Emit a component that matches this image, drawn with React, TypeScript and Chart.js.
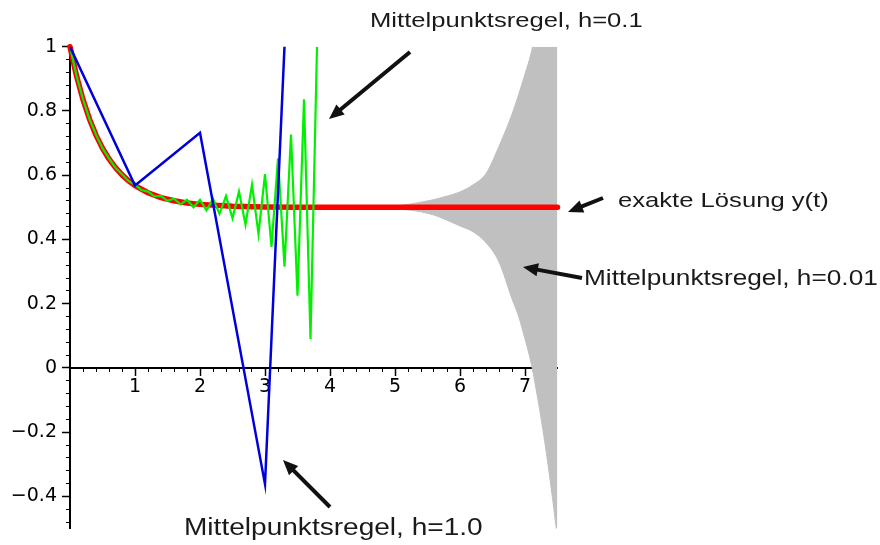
import React, { useEffect, useRef } from 'react';
import { Chart, registerables } from 'chart.js';

Chart.register(...registerables);

// exact solution y(t)
const exactT = [0, 0.1, 0.2, 0.3, 0.4, 0.5, 0.6, 0.7, 0.8, 0.9, 1.0, 1.2, 1.4, 1.6, 1.8, 2.0, 2.5, 3.0, 3.5, 4.0, 5.0, 6.0, 7.5];
const exactY = [1, 0.9094, 0.8352, 0.7744, 0.7247, 0.6839, 0.6506, 0.6233, 0.601, 0.5826, 0.5677, 0.5454, 0.5304, 0.5204, 0.5137, 0.5092, 0.5034, 0.5012, 0.5005, 0.5002, 0.5, 0.5, 0.5];

// Mittelpunktsregel, h = 1.0
const h1T = [0, 1, 2, 3, 4];
const h1Y = [1, 0.5677, 0.7323, -0.3615, 4.18];

// Mittelpunktsregel, h = 0.1
const h01T = [0, 0.1, 0.2, 0.3, 0.4, 0.5, 0.6, 0.7, 0.8, 0.9, 1.0, 1.1, 1.2, 1.3, 1.4, 1.5, 1.6, 1.7, 1.8, 1.9, 2.0, 2.1, 2.2, 2.3, 2.4, 2.5, 2.6, 2.7, 2.8, 2.9, 3.0, 3.1, 3.2, 3.3, 3.4, 3.5, 3.6, 3.7, 3.8];
const h01Y = [1, 0.9094, 0.8363, 0.7749, 0.7263, 0.6843, 0.6526, 0.6233, 0.6032, 0.582, 0.5704, 0.5538, 0.5489, 0.5343, 0.5352, 0.5202, 0.5271, 0.5093, 0.5234, 0.5, 0.5234, 0.4906, 0.5271, 0.4798, 0.5352, 0.4657, 0.5489, 0.4461, 0.5705, 0.4179, 0.6033, 0.3766, 0.6527, 0.3155, 0.7265, 0.2249, 0.8365, 0.0903, 1.0004];

// Mittelpunktsregel, h = 0.01 (envelope of the fast oscillation)
const h001T = [4.4, 4.8, 5.0, 5.2, 5.4, 5.6, 5.8, 6.0, 6.2, 6.4, 6.6, 6.8, 6.9, 7.0, 7.1, 7.2, 7.3, 7.4, 7.5];
const h001Upper = [0.5, 0.502, 0.504, 0.509, 0.516, 0.524, 0.535, 0.548, 0.57, 0.605, 0.69, 0.79, 0.85, 0.915, 0.985, 1.09, 1.2, 1.33, 1.48];
const h001Lower = [0.5, 0.498, 0.496, 0.492, 0.486, 0.476, 0.46, 0.442, 0.424, 0.39, 0.33, 0.215, 0.162, 0.09, 0.01, -0.1, -0.225, -0.37, -0.53];

const xTickValues = [1, 2, 3, 4, 5, 6, 7];
const xTickLabels = ['1', '2', '3', '4', '5', '6', '7'];
const yTickValues = [-0.4, -0.2, 0, 0.2, 0.4, 0.6, 0.8, 1];
const yTickLabels = ['\u22120.4', '\u22120.2', '0', '0.2', '0.4', '0.6', '0.8', '1'];
const xMinorTicks = [0.2, 0.4, 0.6, 0.8, 1, 1.2, 1.4, 1.6, 1.8, 2, 2.2, 2.4, 2.6, 2.8, 3, 3.2, 3.4, 3.6, 3.8, 4, 4.2, 4.4, 4.6, 4.8, 5, 5.2, 5.4, 5.6, 5.8, 6, 6.2, 6.4, 6.6, 6.8, 7, 7.2, 7.4];
const yMinorTicks = [-0.48, -0.44, -0.4, -0.36, -0.32, -0.28, -0.24, -0.2, -0.16, -0.12, -0.08, -0.04, 0, 0.04, 0.08, 0.12, 0.16, 0.2, 0.24, 0.28, 0.32, 0.36, 0.4, 0.44, 0.48, 0.52, 0.56, 0.6, 0.64, 0.68, 0.72, 0.76, 0.8, 0.84, 0.88, 0.92, 0.96, 1];

const notes = [
  { text: 'Mittelpunktsregel, h=0.1', x: 370, y: 27, size: 21 },
  { text: 'exakte L\u00f6sung y(t)', x: 618, y: 207, size: 21 },
  { text: 'Mittelpunktsregel, h=0.01', x: 584, y: 285, size: 21.5 },
  { text: 'Mittelpunktsregel, h=1.0', x: 184, y: 535, size: 23 },
];
const arrows = [
  { from: [410, 52], to: [329, 119] },
  { from: [603, 198], to: [568, 212] },
  { from: [582, 278], to: [523, 267] },
  { from: [330, 507], to: [283, 460] },
];

const FONT = '"Liberation Sans", Arial, Helvetica, sans-serif';
const TICK_FONT = '"DejaVu Sans", Verdana, sans-serif';
const near = (a: number, b: number) => Math.abs(a - b) < 1e-6;
const pts = (xs: number[], ys: number[]) => xs.map((x, i) => ({ x, y: ys[i] }));

const notesPlugin = {
  id: 'notes',
  afterDraw(chart: any) {
    const ctx = chart.ctx as CanvasRenderingContext2D;
    ctx.save();
    ctx.fillStyle = '#111';
    ctx.strokeStyle = '#111';
    for (const a of arrows) {
      const [x1, y1] = a.from;
      const [x2, y2] = a.to;
      const len = Math.hypot(x2 - x1, y2 - y1);
      const ux = (x2 - x1) / len;
      const uy = (y2 - y1) / len;
      const hl = 15;
      const hw = 6.5;
      const bx = x2 - ux * hl;
      const by = y2 - uy * hl;
      ctx.lineWidth = 4;
      ctx.lineCap = 'butt';
      ctx.beginPath();
      ctx.moveTo(x1, y1);
      ctx.lineTo(bx + ux * 2, by + uy * 2);
      ctx.stroke();
      ctx.beginPath();
      ctx.moveTo(x2, y2);
      ctx.lineTo(bx - uy * hw, by + ux * hw);
      ctx.lineTo(bx + uy * hw, by - ux * hw);
      ctx.closePath();
      ctx.fill();
    }
    ctx.fillStyle = '#1a1a1a';
    ctx.textBaseline = 'alphabetic';
    ctx.textAlign = 'left';
    for (const n of notes) {
      ctx.save();
      ctx.font = `${n.size}px ${FONT}`;
      ctx.translate(n.x, n.y);
      ctx.scale(1.22, 1);
      ctx.fillText(n.text, 0, 0);
      ctx.restore();
    }
    ctx.restore();
  },
};

export default function App() {
  const ref = useRef<HTMLCanvasElement>(null);
  useEffect(() => {
    if (!ref.current) return;
    const tickFont = { family: TICK_FONT, size: 19 };
    const chart = new Chart(ref.current, {
      type: 'line',
      data: {
        datasets: [
          {
            label: 'Mittelpunktsregel, h=1.0',
            data: pts(h1T, h1Y),
            borderColor: '#0000dc',
            borderWidth: 2.5,
            pointRadius: 0,
            tension: 0,
            fill: false,
            xAxisID: 'x',
            yAxisID: 'y',
          },
          {
            label: 'Mittelpunktsregel, h=0.1',
            data: pts(h01T, h01Y),
            borderColor: '#00f000',
            borderWidth: 2.2,
            pointRadius: 0,
            tension: 0,
            fill: false,
            xAxisID: 'x',
            yAxisID: 'y',
          },
          {
            label: 'exakte L\u00f6sung y(t)',
            data: pts(exactT, exactY),
            borderColor: '#ff0000',
            borderWidth: 5.5,
            borderCapStyle: 'round',
            borderJoinStyle: 'round',
            pointRadius: 0,
            tension: 0,
            fill: false,
            clip: { left: 6, top: 6, right: 6, bottom: 0 },
            xAxisID: 'x',
            yAxisID: 'y',
          },
          {
            label: 'h=0.01 oben',
            data: pts(h001T, h001Upper),
            borderColor: '#c0c0c0',
            borderWidth: 1,
            pointRadius: 0,
            cubicInterpolationMode: 'monotone',
            fill: false,
            xAxisID: 'x',
            yAxisID: 'y',
          },
          {
            label: 'Mittelpunktsregel, h=0.01',
            data: pts(h001T, h001Lower),
            borderColor: '#c0c0c0',
            backgroundColor: '#c0c0c0',
            borderWidth: 1,
            pointRadius: 0,
            cubicInterpolationMode: 'monotone',
            fill: '-1',
            xAxisID: 'x',
            yAxisID: 'y',
          },
        ],
      },
      options: {
        animation: false,
        responsive: false,
        events: [],
        layout: { padding: { left: 0, top: 46.7, right: 322.5, bottom: 8.8 } },
        plugins: { legend: { display: false }, tooltip: { enabled: false } },
        scales: {
          x: {
            type: 'linear',
            axis: 'x',
            min: 0,
            max: 7.5,
            position: { y: 0 },
            afterBuildTicks: (s: any) => {
              s.ticks = xTickValues.map((value) => ({ value }));
            },
            ticks: {
              autoSkip: false,
              maxRotation: 0,
              padding: 1,
              color: '#000',
              font: tickFont,
              callback: (v: any) => {
                const i = xTickValues.findIndex((t) => near(t, Number(v)));
                return i >= 0 ? xTickLabels[i] : '';
              },
            },
            grid: {
              drawOnChartArea: false,
              drawTicks: true,
              tickLength: 7,
              tickWidth: 1.5,
              tickColor: '#000',
            },
            border: { display: true, color: '#000', width: 2 },
          },
          x2: {
            type: 'linear',
            axis: 'x',
            min: 0,
            max: 7.5,
            position: { y: 0 },
            afterBuildTicks: (s: any) => {
              s.ticks = xMinorTicks.map((value) => ({ value }));
            },
            ticks: { autoSkip: false, maxRotation: 0, callback: () => '' },
            grid: {
              drawOnChartArea: false,
              drawTicks: true,
              tickLength: 4,
              tickWidth: 1,
              tickColor: '#000',
            },
            border: { display: false },
          },
          y: {
            type: 'linear',
            axis: 'y',
            min: -0.5,
            max: 1,
            position: 'left',
            afterFit: (s: any) => {
              s.width = 70;
            },
            afterBuildTicks: (s: any) => {
              s.ticks = yTickValues.map((value) => ({ value }));
            },
            ticks: {
              autoSkip: false,
              padding: 5,
              color: '#000',
              font: tickFont,
              callback: (v: any) => {
                const i = yTickValues.findIndex((t) => near(t, Number(v)));
                return i >= 0 ? yTickLabels[i] : '';
              },
            },
            grid: {
              drawOnChartArea: false,
              drawTicks: true,
              tickLength: 8,
              tickWidth: 1.5,
              tickColor: '#000',
            },
            border: { display: true, color: '#000', width: 2 },
          },
          y2: {
            type: 'linear',
            axis: 'y',
            min: -0.5,
            max: 1,
            position: { x: 0 },
            afterBuildTicks: (s: any) => {
              s.ticks = yMinorTicks.map((value) => ({ value }));
            },
            ticks: { autoSkip: false, callback: () => '' },
            grid: {
              drawOnChartArea: false,
              drawTicks: true,
              tickLength: 4,
              tickWidth: 1,
              tickColor: '#000',
            },
            border: { display: false },
          },
        },
      },
      plugins: [notesPlugin],
    } as any);
    return () => chart.destroy();
  }, []);
  return (
    <div style={{ position: 'fixed', left: 0, top: 0, width: 880, height: 545, background: '#fff' }}>
      <canvas ref={ref} width={880} height={545} style={{ display: 'block', width: 880, height: 545 }} />
    </div>
  );
}
